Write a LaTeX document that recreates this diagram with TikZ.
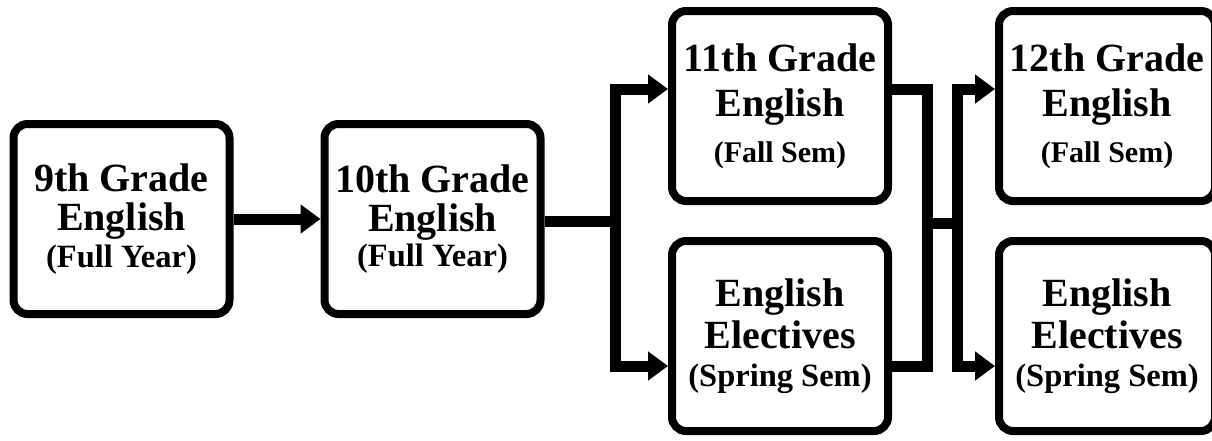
\documentclass[tikz,border=0pt]{standalone}
\usepackage{fontspec}
\newfontfamily\coursefont{Liberation Serif}
\newcommand*{\headsize}{\fontsize{40}{36}\selectfont}
\newcommand*{\notesize}{\fontsize{32.5}{36}\selectfont}
\newcommand*{\semsize}{\fontsize{30}{36}\selectfont}
\definecolor{ink}{rgb}{0.00,0.00,0.00}
\usetikzlibrary{arrows.meta}
\usetikzlibrary{positioning}
\tikzstyle{course}=[draw=ink, line width=8pt, rounded corners=14pt, minimum width=216pt, minimum height=190pt, align=center, font=\coursefont\bfseries\headsize]
\tikzstyle{pipe}=[draw=ink, line width=11pt, line join=miter]
\tikzstyle{feed}=[pipe, -{Triangle[length=20pt, width=28pt]}]

\begin{document}
\begin{tikzpicture}[x=1pt, y=-1pt]
    \path [use as bounding box] (0,0) rectangle (1212,440);
        \node [course] (ninth) at (121.5,219) {9th Grade\\[3pt]English\\[1pt]\notesize (Full Year)};
        \node [course, right=87pt of ninth] (tenth) {10th Grade\\[3pt]English\\[-1pt]\notesize (Full Year)};
        \node [course] (eleventh) at (780,106) {11th Grade\\[9pt]English\\[10pt]\semsize (Fall Sem)};
        \node [course, below=32pt of eleventh] (electA) {English\\[4pt]Electives\\[2pt]\notesize (Spring Sem)};
        \node [course, right=103pt of eleventh] (twelfth) {12th Grade\\[9pt]English\\[10pt]\semsize (Fall Sem)};
        \node [course, right=103pt of electA] (electB) {English\\[4pt]Electives\\[2pt]\notesize (Spring Sem)};
        \coordinate (forkA) at (615,221);
        \coordinate (forkB) at (927,223);
        \coordinate (forkC) at (957,223);
        \coordinate (upper) at (0,89);
        \coordinate (lower) at (0,366);
        \draw [feed] (ninth) -- (tenth);
        \draw [pipe] (tenth.east |- forkA) -- (forkA);
        \draw [feed] (forkA) |- (eleventh.west |- upper);
        \draw [feed] (forkA) |- (electA.west |- lower);
        \draw [pipe] (eleventh.east |- upper) -| (forkB);
        \draw [pipe] (electA.east |- lower) -| (forkB);
        \draw [pipe] (forkB) -- (forkC);
        \draw [feed] (forkC) |- (twelfth.west |- upper);
        \draw [feed] (forkC) |- (electB.west |- lower);
    \end{tikzpicture}
\end{document}
